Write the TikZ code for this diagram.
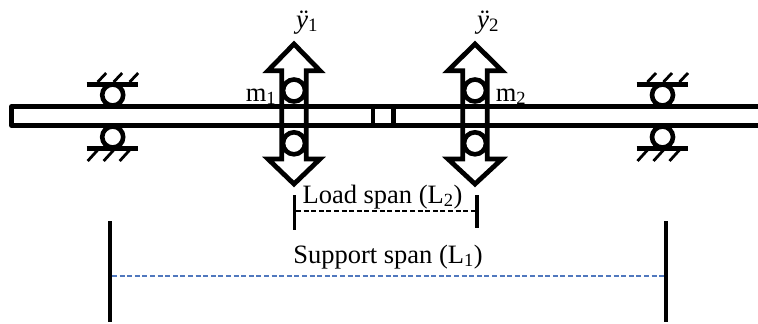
\documentclass[tikz,border=0pt]{standalone}
\usepackage{fontspec}
\setmainfont{Liberation Serif}
\tikzset{
  thick line/.style={line width=4.8pt,draw=black},
  ball/.style={circle,draw=black,line width=4.6pt,minimum size=#1,inner sep=0pt,fill=white},
  plate/.style={line width=4.4pt,draw=black},
  hatching/.style={line width=2.8pt,draw=black},
  bigarrow/.style={line width=4.8pt,draw=black,fill=white,miter limit=10},
  tick/.style={line width=3.6pt,draw=black},
  label/.style={inner sep=0pt,font=\fontsize{26.5}{30}\selectfont},
  acc/.style={inner sep=0pt,font=\fontsize{27}{32}\selectfont},
}
\newcommand{\bearing}[1]{%
  \begin{scope}[shift={(#1,0)}]
    \node[ball=21pt] at (0,95) {};
    \node[ball=21pt] at (0,137) {};
    \draw[plate] (-26,84.3) -- (25.5,84.3);
    \draw[plate] (-26,148.3) -- (25.5,148.3);
    \foreach \d in {0,16,32} {
      \draw[hatching] (-15+\d,82) -- (-6.5+\d,73);
      \draw[hatching] (-15+\d,150) -- (-25+\d,161);
    }
  \end{scope}}
\newcommand{\updown}[3]{%
  \draw[bigarrow] (#1,44) -- (#1+#3,70.7) -- (#1+#2,70.7) -- (#1+#2,159) -- (#1+#3,159)
     -- (#1,184) -- (#1-#3,159) -- (#1-#2,159) -- (#1-#2,70.7) -- (#1-#3,70.7) -- cycle;
  \node[ball=22pt] at (#1,90.5) {};
  \node[ball=22pt] at (#1,143.3) {};}
\begin{document}
\begin{tikzpicture}[x=1pt,y=-1pt]
  \useasboundingbox (0,0) rectangle (758,324);
  % arrows with their rollers
  \updown{294}{12.3}{26}
  \updown{475}{12.3}{27}
  % fixed bearings
  \bearing{112.7}
  \bearing{662.5}
  % shaft
  \draw[thick line,line join=round] (758,106.5) -- (11.5,106.5) -- (11.5,125.5) -- (758,125.5);
  \draw[line width=1pt] (495,104.5) -- (570,104.5);
  \draw[line width=4.4pt] (372.7,106.5) -- (372.7,125.5);
  \draw[line width=4.4pt] (393.3,106.5) -- (393.3,125.5);
  % labels
  \node[acc,anchor=base] (a1) at (307,28) {\textit{ÿ}\textsubscript{1}};
  \node[acc,anchor=base] (a2) at (488,28) {\textit{ÿ}\textsubscript{2}};
  \node[label,anchor=base] (m1) at (261,101) {m\textsubscript{1}};
  \node[label,anchor=base] (m2) at (511,101) {m\textsubscript{2}};
  \coordinate (l2a) at (294.3,195); \coordinate (l2b) at (294.3,230);
  \coordinate (r2a) at (477,195);   \coordinate (r2b) at (477,228);
  \draw[tick] (l2a) -- (l2b);
  \draw[tick] (r2a) -- (r2b);
  \coordinate (d2a) at (296,211); \coordinate (d2b) at (475,211);
  \draw[line width=1.2pt,dash pattern=on 5pt off 2.6pt] (d2a) -- (d2b);
  \node[label,anchor=base] (load) at (382.5,203) {Load span (L\textsubscript{2})};
  \coordinate (l1a) at (110,221); \coordinate (l1b) at (110,322);
  \coordinate (r1a) at (666,221); \coordinate (r1b) at (666,322);
  \draw[tick] (l1a) -- (l1b);
  \draw[tick] (r1a) -- (r1b);
  \coordinate (d1a) at (112,276); \coordinate (d1b) at (664,276);
  \draw[line width=1.1pt,draw={rgb,255:red,80;green,120;blue,190},dash pattern=on 5pt off 2.6pt] (d1a) -- (d1b);
  \node[label,anchor=base] (support) at (388,263) {Support span (L\textsubscript{1})};
\end{tikzpicture}
\end{document}
